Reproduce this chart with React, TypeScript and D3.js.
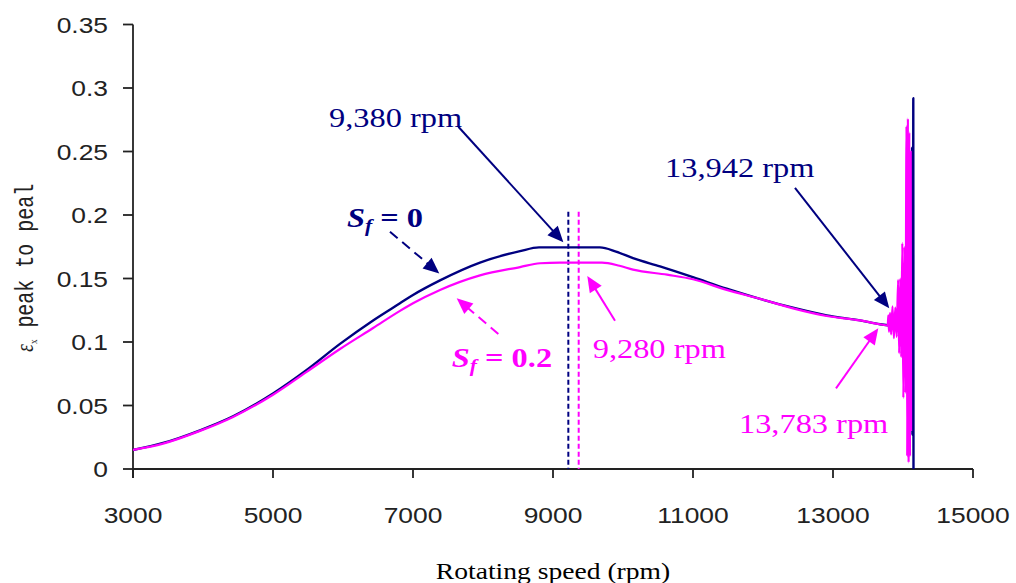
import React from 'react';
import * as d3 from 'd3';

// Sf = 0 (navy) : rotating speed (rpm) vs peak to peak amplitude
const sf0Rpm = [3000, 3430, 3957, 4429, 5000, 5481, 5957, 6430, 6814, 7000, 7386, 7957, 8529, 8800, 9670, 9900, 10143, 10529, 11000, 11481, 11957, 12429, 12910, 13386, 13671, 13942, 14050, 14100, 14110, 14115, 14120, 14125, 14130, 14135, 14140, 14144, 14147, 14150];
const sf0Amp = [0.015, 0.0205, 0.0305, 0.0415, 0.0595, 0.078, 0.0985, 0.117, 0.1305, 0.137, 0.1485, 0.1625, 0.1715, 0.1745, 0.1745, 0.1712, 0.166, 0.1595, 0.151, 0.142, 0.134, 0.127, 0.121, 0.117, 0.114, 0.112, 0.111, 0.111, 0.14, 0.08, 0.21, 0.04, 0.253, 0.027, 0.253, 0.027, 0.292, 0.0];

// Sf = 0.2 (magenta)
const sf02Rpm = [3000, 3430, 3957, 4429, 5000, 5481, 5957, 6430, 6814, 7000, 7386, 7957, 8529, 8814, 9100, 9700, 9950, 10143, 10629, 11000, 11481, 11957, 12429, 12910, 13386, 13671, 13783, 13790, 13800, 13815, 13830, 13850, 13870, 13890, 13910, 13930, 13945, 13960, 13975, 13990, 14005, 14020, 14035, 14050, 14060, 14070, 14080, 14090, 14100, 14110, 14115];
const sf02Amp = [0.015, 0.020, 0.030, 0.041, 0.0585, 0.0765, 0.0945, 0.111, 0.1245, 0.1305, 0.141, 0.1525, 0.159, 0.162, 0.1625, 0.1625, 0.160, 0.157, 0.153, 0.1494, 0.141, 0.134, 0.1265, 0.1205, 0.117, 0.114, 0.113, 0.121, 0.108, 0.123, 0.106, 0.128, 0.103, 0.127, 0.104, 0.149, 0.091, 0.150, 0.088, 0.178, 0.056, 0.175, 0.060, 0.270, 0.010, 0.276, 0.005, 0.265, 0.010, 0.250, 0.030];

const xTicks = [3000, 5000, 7000, 9000, 11000, 13000, 15000];
const yTicks = [0, 0.05, 0.1, 0.15, 0.2, 0.25, 0.3, 0.35];
const yTickLabels = ['0', '0.05', '0.1', '0.15', '0.2', '0.25', '0.3', '0.35'];

// peak markers (dashed verticals)
const peakRpm = [9219, 9367];
const peakTop = 0.2026;

const NAVY = '#000080';
const MAG = '#FF00FF';
const SX = 1.2; // horizontal stretch of the original artwork

const W = 1016, H = 583;
const x = d3.scaleLinear().domain([3000, 15000]).range([133, 973]);
const y = d3.scaleLinear().domain([0, 0.35]).range([469, 24.5]);

const line = d3.line<[number, number]>()
  .x(d => x(d[0]))
  .y(d => y(d[1]))
  .curve(d3.curveMonotoneX);

function Txt(props: any) {
  const { px, py, size, fill, family, anchor, weight, italic, children } = props;
  return (
    <text
      transform={`translate(${px},${py}) scale(${SX},1)`}
      fontSize={size}
      fill={fill || '#000'}
      fontFamily={family || 'Liberation Serif'}
      textAnchor={anchor || 'start'}
      fontWeight={weight || 'normal'}
      fontStyle={italic ? 'italic' : 'normal'}
      style={{ whiteSpace: 'pre' }}
    >
      {children}
    </text>
  );
}

function Arrow(props: any) {
  const { from, to, color, dashed } = props;
  const x1 = x(from[0]), y1 = y(from[1]);
  const x2 = x(to[0]), y2 = y(to[1]);
  const dx = x2 - x1, dy = y2 - y1;
  const len = Math.hypot(dx, dy);
  const ux = dx / len, uy = dy / len;
  const hl = 16, hw = 7;
  const bx = x2 - ux * hl, by = y2 - uy * hl;
  const pts = [
    [x2, y2],
    [bx - uy * hw, by + ux * hw],
    [bx + uy * hw, by - ux * hw],
  ].map(p => p.join(',')).join(' ');
  return (
    <g>
      <line x1={x1} y1={y1} x2={bx + ux * 2} y2={by + uy * 2} stroke={color} strokeWidth={2}
        strokeDasharray={dashed ? '10,6' : undefined} />
      <polygon points={pts} fill={color} />
    </g>
  );
}

export default function App() {
  const sf0 = sf0Rpm.map((r, i) => [r, sf0Amp[i]] as [number, number]);
  const sf02 = sf02Rpm.map((r, i) => [r, sf02Amp[i]] as [number, number]);
  const peakColors = [NAVY, MAG];

  return (
    <svg width={W} height={H} style={{ position: 'absolute', left: 0, top: 0, background: '#fff' }}>
      {/* axes */}
      <line x1={x(3000)} x2={x(3000)} y1={y(0.35)} y2={y(0) + 9} stroke="#222" strokeWidth={1.8} />
      <line x1={x(3000)} x2={x(15000)} y1={y(0)} y2={y(0)} stroke="#222" strokeWidth={1.8} />
      {yTicks.map((t, i) => (
        <g key={'y' + t}>
          <line x1={x(3000) - 10} x2={x(3000)} y1={y(t)} y2={y(t)} stroke="#222" strokeWidth={1.8} />
          <Txt px={108} py={y(t) + 8} size={22} anchor="end" family="Liberation Sans" fill="#222">{yTickLabels[i]}</Txt>
        </g>
      ))}
      {xTicks.map(t => (
        <g key={'x' + t}>
          <line x1={x(t)} x2={x(t)} y1={y(0)} y2={y(0) + 9} stroke="#222" strokeWidth={1.8} />
          <Txt px={x(t)} py={523} size={22} anchor="middle" family="Liberation Sans" fill="#222">{String(t)}</Txt>
        </g>
      ))}

      {/* axis titles */}
      <Txt px={553} py={579} size={23} anchor="middle">Rotating speed (rpm)</Txt>
      <text transform="translate(33,352) scale(1.25,1) rotate(-90)" fontSize={20} fill="#222">
        <tspan fontFamily="Liberation Serif" fontStyle="italic" fontSize={20}>ε</tspan>
        <tspan fontFamily="Liberation Serif" fontSize={9} dy={3}>x</tspan>
        <tspan fontFamily="Liberation Mono" dy={-3} style={{ whiteSpace: 'pre' }}> peak to peal</tspan>
      </text>

      {/* peak markers */}
      {peakRpm.map((r, i) => (
        <line key={'p' + r} x1={x(r)} x2={x(r)} y1={y(peakTop)} y2={y(0)}
          stroke={peakColors[i]} strokeWidth={2} strokeDasharray="5,3" />
      ))}

      {/* curves */}
      <path d={line(sf0) || ''} fill="none" stroke={NAVY} strokeWidth={2.4} strokeLinejoin="round" />
      <path d={line(sf02) || ''} fill="none" stroke={MAG} strokeWidth={2.2} strokeLinejoin="round" />

      {/* annotations */}
      <Txt px={x(5800)} py={y(0.2695)} size={27} fill={NAVY}>9,380 rpm</Txt>
      <Arrow from={[7648, 0.2695]} to={[9148, 0.1785]} color={NAVY} />

      <Txt px={x(10600)} py={y(0.230)} size={27} fill={NAVY}>13,942 rpm</Txt>
      <Arrow from={[12457, 0.2213]} to={[13804, 0.1265]} color={NAVY} />

      <Txt px={x(9567)} py={y(0.0872)} size={27} fill={MAG}>9,280 rpm</Txt>
      <Arrow from={[9886, 0.1168]} to={[9490, 0.152]} color={MAG} />

      <Txt px={x(13790)} py={y(0.0283)} size={27} fill={MAG} anchor="end">13,783 rpm</Txt>
      <Arrow from={[13043, 0.0635]} to={[13647, 0.1108]} color={MAG} />

      <text transform={`translate(${x(6057)},${y(0.1908)}) scale(${SX},1)`} fontFamily="Liberation Serif"
        fontWeight="bold" fontSize={27} fill={NAVY} style={{ whiteSpace: 'pre' }}>
        <tspan fontStyle="italic">S</tspan>
        <tspan fontStyle="italic" fontSize={18} dy={5}>f</tspan>
        <tspan dy={-5}> = 0</tspan>
      </text>
      <Arrow from={[6671, 0.1868]} to={[7376, 0.154]} color={NAVY} dashed />

      <text transform={`translate(${x(7553)},${y(0.0806)}) scale(${SX},1)`} fontFamily="Liberation Serif"
        fontWeight="bold" fontSize={27} fill={MAG} style={{ whiteSpace: 'pre' }}>
        <tspan fontStyle="italic">S</tspan>
        <tspan fontStyle="italic" fontSize={18} dy={5}>f</tspan>
        <tspan dy={-5}> = 0.2</tspan>
      </text>
      <Arrow from={[8219, 0.1063]} to={[7624, 0.1344]} color={MAG} dashed />
    </svg>
  );
}
